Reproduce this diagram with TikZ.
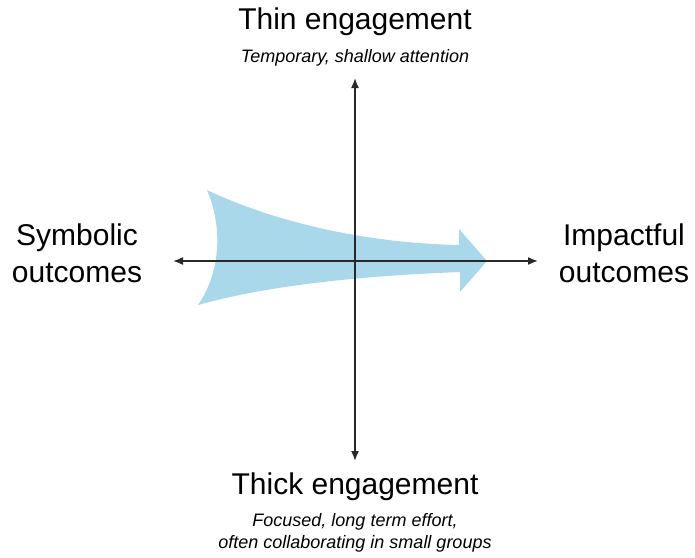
\documentclass[tikz,border=0pt]{standalone}
\usepackage{fontspec}
\setmainfont{Liberation Sans}
\usetikzlibrary{arrows.meta}
\definecolor{flowblue}{RGB}{168,216,234}
\definecolor{axisgray}{RGB}{40,40,40}

\begin{document}
\begin{tikzpicture}[x=1pt,y=-1pt,
  axis/.style={draw=axisgray,line width=1.6pt,{Latex[length=10pt,width=8pt]}-{Latex[length=10pt,width=8pt]}},
  heading/.style={anchor=base,align=center,inner sep=0pt,font=\fontsize{30}{37}\selectfont},
  note/.style={anchor=base,align=center,inner sep=0pt,font=\fontsize{18}{22}\selectfont\itshape}]
\useasboundingbox (0,0) rectangle (695,557);
% the widening blue arrow behind the axes
\fill[flowblue] (207,190) .. controls (270,220) and (360,243) .. (459,245)
  -- (459,229) -- (487,261) -- (460,292) -- (460,272)
  .. controls (360,276) and (270,285) .. (198,305)
  .. controls (222,270) and (222,225) .. (207,190) -- cycle;
% axis ends
\coordinate (top) at (355,78);
\coordinate (bottom) at (355,461);
\coordinate (left) at (173,261);
\coordinate (right) at (538,261);
\draw[axis] (bottom) -- (top);
\draw[axis] (left) -- (right);
% labels (base = last line)
\node[heading] (thin) at (355,29) {Thin engagement};
\node[note] (thinnote) at (355,62) {Temporary, shallow attention};
\node[heading] (thick) at (355,494) {Thick engagement};
\node[note] (thicknote) at (355,548) {Focused, long term effort,\\often collaborating in small groups};
\node[heading] (symbolic) at (77,282) {Symbolic\\outcomes};
\node[heading] (impactful) at (624,282) {Impactful\\outcomes};
\end{tikzpicture}
\end{document}
